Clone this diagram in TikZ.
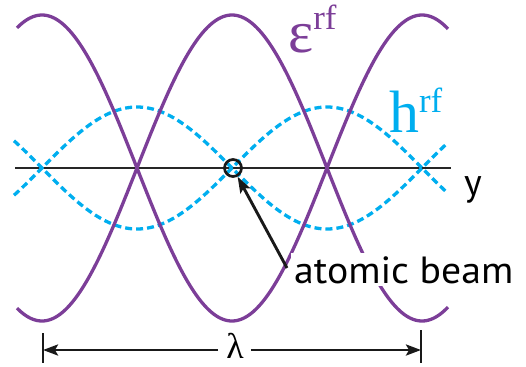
\documentclass[tikz,border=0pt]{standalone}
\usepackage{fontspec}
\setmainfont{Liberation Serif}
\newfontfamily\labelsans{PT Sans}
\usetikzlibrary{arrows.meta}
\definecolor{efield}{RGB}{124,62,152}
\definecolor{hfield}{RGB}{0,174,239}
\tikzset{
  efcurve/.style={draw=efield, line width=3.3bp},
  hfcurve/.style={draw=hfield, line width=3.3bp, dash pattern=on 7bp off 4bp},
  axisline/.style={draw=black!85, line width=2.6bp},
  pointer/.style={draw=black!90, line width=2.9bp, -{Stealth[length=16bp,width=11bp,inset=3bp]}},
  dimline/.style={draw=black!90, line width=2.7bp, -{Stealth[length=15bp,width=11bp,inset=3bp]}},
  tickline/.style={draw=black!90, line width=2.7bp},
}
\begin{document}
\begin{tikzpicture}[x=1bp,y=-1bp]
\useasboundingbox (0,0) rectangle (526,366);
% axis
\coordinate (axL) at (15,168);
\coordinate (axR) at (451,168);
\draw[axisline] (axL) -- (axR);
% h curves
\draw[hfcurve] plot[domain=14:448, samples=200] (\x, {168-61*sin(0.9473684*(\x-42))});
\draw[hfcurve] plot[domain=14:448, samples=200] (\x, {168+61*sin(0.9473684*(\x-42))});
% e curves
\draw[efcurve] plot[domain=17:448, samples=240] (\x, {168-153*cos(0.9473684*(\x-42))});
\draw[efcurve] plot[domain=17:448, samples=240] (\x, {168+153*cos(0.9473684*(\x-42))});
% labels
\node[anchor=base west, inner sep=0pt, text=efield] (elab) at (288,52)
  {\fontsize{60}{60}\selectfont ε\raisebox{23bp}{\fontsize{35}{35}\selectfont rf}};
\node[anchor=base west, inner sep=0pt, text=hfield] (hlab) at (389,132)
  {\fontsize{60}{60}\selectfont h\raisebox{20bp}{\fontsize{35}{35}\selectfont rf}};
\node[anchor=base west, inner sep=0pt] (ylab) at (464,195) {\labelsans\fontsize{38}{38}\selectfont y};
% beam
\node[circle, draw=black!90, line width=2.7bp, minimum size=17bp, inner sep=0pt] (beam) at (233,168) {};
\node[anchor=base west, fill=white, inner sep=3bp] (atom) at (291,283) {\labelsans\fontsize{38}{38}\selectfont\scalebox{1.05}[1]{atomic beam}};
\coordinate (aS) at (287,268);
\draw[pointer] (aS) -- (beam.-62);
% lambda
\coordinate (lamL) at (43,350);
\coordinate (lamR) at (421,350);
\node[inner sep=0pt] (lam) at (235,346) {\fontsize{36}{36}\selectfont λ};
\draw[dimline] ([xshift=-8bp]lam.west |- lamL) -- (lamL);
\draw[dimline] ([xshift=7bp]lam.east |- lamR) -- (lamR);
\coordinate (tLt) at (43,333); \coordinate (tLb) at (43,363);
\coordinate (tRt) at (421,330); \coordinate (tRb) at (421,363);
\draw[tickline] (tLt) -- (tLb);
\draw[tickline] (tRt) -- (tRb);
\end{tikzpicture}
\end{document}
